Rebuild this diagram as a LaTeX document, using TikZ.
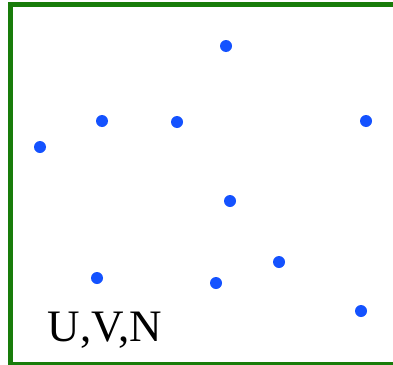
\documentclass[tikz,border=0pt]{standalone}
\usepackage{fontspec}
\setmainfont{Liberation Serif}
\usetikzlibrary{positioning}
\definecolor{frame}{RGB}{24,124,10}
\definecolor{dotblue}{RGB}{20,82,255}

\begin{document}
\begin{tikzpicture}[
  x=1pt, y=-1pt,
  pt/.style={circle, fill=dotblue, inner sep=0pt, minimum size=12pt},
  lbl/.style={anchor=base west, inner sep=0pt, font=\fontsize{45}{50}\selectfont}
]
\clip (0,0) rectangle (393,364);
\useasboundingbox (0,0) rectangle (393,364);
\draw[frame, line width=5pt] (400,4.7) -- (10.8,4.7) -- (10.8,364.5) -- (400,364.5);

\node[pt] (p1) at (226,46) {};
\node[pt] (p2) at (102,121) {};
\node[pt] (p3) at (177,122) {};
\node[pt] (p4) at (366,121) {};
\node[pt] (p5) at (40,147) {};
\node[pt] (p6) at (230,201) {};
\node[pt] (p7) at (279,262) {};
\node[pt] (p8) at (97,278) {};
\node[pt] (p9) at (216,283) {};
\node[pt] (p10) at (361,311) {};

\node[lbl] (set) at (47.5,341.7) {U,V,N};
\end{tikzpicture}
\end{document}
